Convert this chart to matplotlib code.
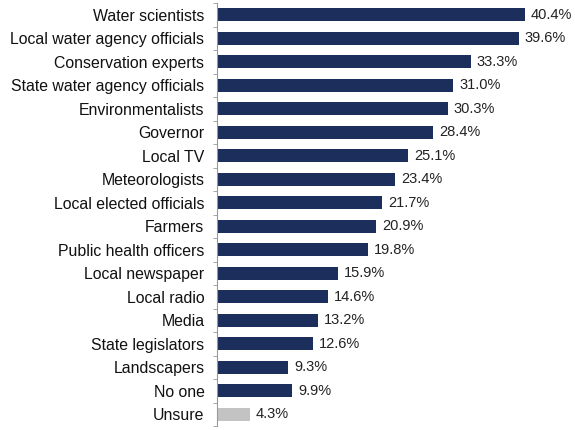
import matplotlib
matplotlib.use("Agg")
import matplotlib.pyplot as plt
import numpy as np

categories = ["Water scientists", "Local water agency officials", "Conservation experts",
              "State water agency officials", "Environmentalists", "Governor", "Local TV",
              "Meteorologists", "Local elected officials", "Farmers", "Public health officers",
              "Local newspaper", "Local radio", "Media", "State legislators", "Landscapers",
              "No one", "Unsure"]
values = [40.4, 39.6, 33.3, 31.0, 30.3, 28.4, 25.1, 23.4, 21.7, 20.9, 19.8, 15.9, 14.6,
          13.2, 12.6, 9.3, 9.9, 4.3]

plt.rcParams['font.family'] = ['Liberation Sans', 'DejaVu Sans']

fig = plt.figure(figsize=(5.75, 4.3), dpi=100)
ax = fig.add_axes([217/575, 4/430, 1 - 217/575, 423/430])

n = len(categories)
y = np.arange(n)
colors = ["#1b2e5c"] * (n - 1) + ["#c3c3c3"]
ax.barh(y, values, height=0.55, color=colors)
for yi, v in zip(y, values):
    ax.text(v + 0.8, yi, f"{v:.1f}%", va="center", ha="left", fontsize=10.5, color="#222222")

ax.set_ylim(n - 0.5, -0.5)
ax.set_xlim(0, 47)
ax.set_yticks(y)
ax.set_yticklabels(categories, fontsize=11.4, color="#111111")
ax.tick_params(axis="y", length=0, pad=9)
ax.set_yticks(np.arange(-0.5, n, 1), minor=True)
ax.tick_params(axis="y", which="minor", length=3, color="#999999")
ax.set_xticks([])
for s in ["top", "right", "bottom"]:
    ax.spines[s].set_visible(False)
ax.spines["left"].set_color("#999999")

fig.savefig("out.png", dpi=100)
